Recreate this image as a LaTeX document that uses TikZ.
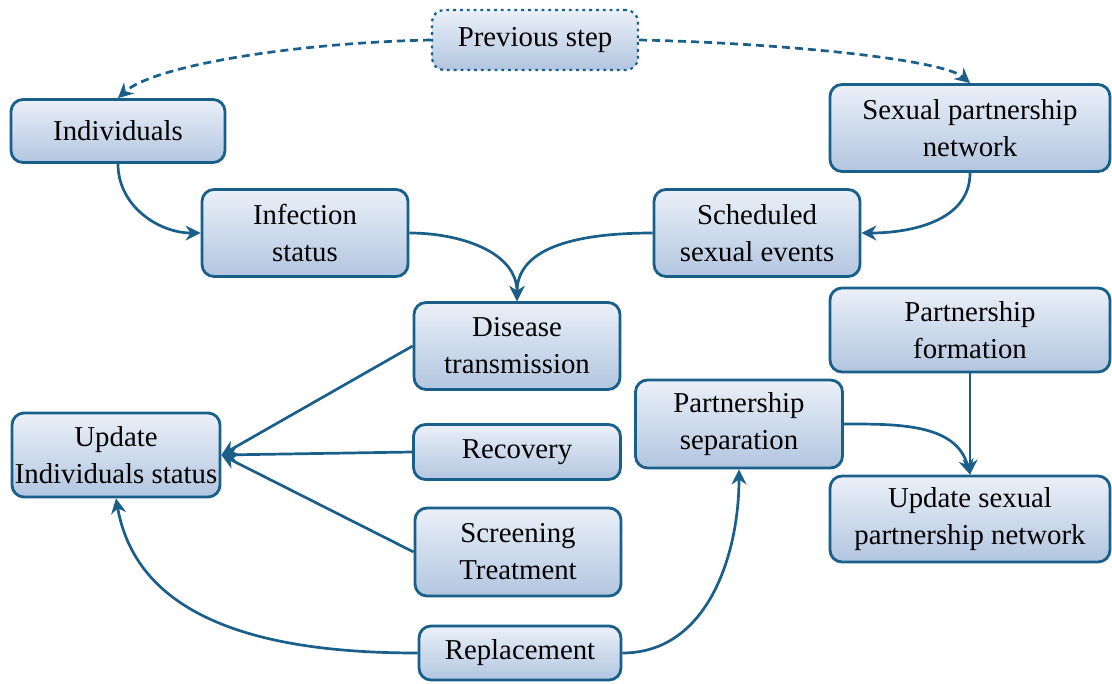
\documentclass[tikz,border=0pt]{standalone}
\usepackage{fontspec}
\setmainfont{Liberation Serif}
\usetikzlibrary{arrows.meta}
\definecolor{boxline}{RGB}{26,94,138}
\definecolor{boxtop}{RGB}{234,240,248}
\definecolor{boxbottom}{RGB}{178,198,224}
\tikzset{
  stage/.style={draw=boxline, line width=1.4pt, rounded corners=6pt,
    top color=boxtop, bottom color=boxbottom, align=center, inner sep=0pt,
    font=\fontsize{14.4}{18.5}\selectfont},
  flow/.style={draw=boxline, line width=1.35pt, -{Stealth[length=7.5pt,width=7.5pt]}},
  loose/.style={dash pattern=on 4pt off 2.5pt},
}
\begin{document}
\begin{tikzpicture}[x=0.5pt,y=-0.5pt]
		\useasboundingbox (0,0) rectangle (1112,684);
		% top row
		\node[stage, dotted, line width=1.1pt, minimum width=103pt, minimum height=30pt] (prev) at (535,40) {Previous step};
		\node[stage, minimum width=107pt, minimum height=31.5pt] (indiv) at (118,131) {Individuals};
		\node[stage, minimum width=140pt, minimum height=43.5pt] (sexnet) at (970,128) {Sexual partnership\\network};
		\node[stage, minimum width=103pt, minimum height=43.5pt] (infect) at (305,233) {Infection\\status};
		\node[stage, minimum width=103pt, minimum height=43.5pt] (sched) at (757,233) {Scheduled\\sexual events};
		% middle
		\node[stage, minimum width=103pt, minimum height=43.5pt] (disease) at (517,346) {Disease\\transmission};
		\node[stage, minimum width=140pt, minimum height=42pt] (formation) at (970,330) {Partnership\\formation};
		\node[stage, minimum width=104pt, minimum height=42pt] (upind) at (116,455) {Update\\Individuals status};
		\node[stage, minimum width=103.5pt, minimum height=27.5pt] (recovery) at (517,452) {Recovery};
		\node[stage, minimum width=103.5pt, minimum height=44pt] (separation) at (739,424) {Partnership\\separation};
		\node[stage, minimum width=103pt, minimum height=44pt] (screening) at (518,552) {Screening\\Treatment};
		\node[stage, minimum width=140pt, minimum height=43pt] (upnet) at (970,519) {Update sexual\\partnership network};
		\node[stage, minimum width=101pt, minimum height=27pt] (replace) at (520,653) {Replacement};
		
		% connectors
		\draw[flow, loose] (prev.west) .. controls +(-140,3) and +(35,-32) .. (indiv.north);
		\draw[flow, loose] (prev.east) .. controls +(140,3) and +(-28,-24) .. (sexnet.north);
		\draw[flow] (indiv.south) to[out=-90,in=180] (infect.west);
		\draw[flow] (sexnet.south) to[out=-90,in=0] (sched.east);
		\draw[flow] (infect.east) to[out=0,in=90] (disease.north);
		\draw[flow] (sched.west) to[out=180,in=90] (disease.north);
		\draw[flow] (disease.west) -- (upind.east);
		\draw[flow] (recovery.west) -- (upind.east);
		\draw[flow] (screening.west) -- (upind.east);
		\draw[flow] (replace.west) to[out=180,in=-80] (upind.south);
		\draw[flow] (replace.east) to[out=0,in=-90] (separation.south);
		\draw[flow] (separation.east) to[out=0,in=105] (upnet.north);
		\draw[flow] (formation.south) -- (upnet.north);
\end{tikzpicture}
\end{document}
